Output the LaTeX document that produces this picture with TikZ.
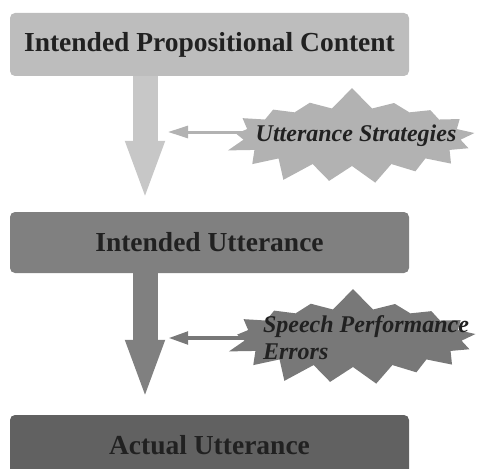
\documentclass[tikz,border=0pt]{standalone}
\usepackage{fontspec}
\setmainfont{Liberation Serif}
\usetikzlibrary{shapes.symbols,arrows.meta}

\definecolor{boxlight}{gray}{0.74}
\definecolor{boxmid}{gray}{0.50}
\definecolor{boxdark}{gray}{0.38}
\definecolor{arrowlight}{gray}{0.78}
\definecolor{arrowmid}{gray}{0.50}
\definecolor{burstlight}{gray}{0.70}
\definecolor{burstmid}{gray}{0.47}
\definecolor{inktext}{gray}{0.13}

\tikzset{
  stagebox/.style={rounded corners=5pt, minimum width=399pt, inner sep=0pt,
    text=inktext, font=\bfseries\fontsize{27.5}{30}\selectfont},
  burst/.style={starburst, starburst points=17, starburst point height=22pt,
    random starburst=7, minimum width=262pt, minimum height=102pt, inner sep=0pt},
  bursttext/.style={text=inktext, align=left,
    font=\bfseries\itshape\fontsize{24}{27}\selectfont},
  bigarrow/.style={line width=25pt, -{Triangle[length=60pt,width=35pt]}},
  thinarrow/.style={-{Triangle[length=20pt,width=12pt]}}
}

\begin{document}
\begin{tikzpicture}[x=1pt,y=1pt]
            % Frame
            \useasboundingbox (0,0) rectangle (481,-468);
            \clip (0,0) rectangle (481,-468);

            % Stages
            \node[stagebox, fill=boxlight, minimum height=63pt] (ipc) at (209.5,-44.5) {Intended Propositional Content};
            \node[stagebox, fill=boxmid, minimum height=61pt] (iu) at (209.5,-242.5) {Intended Utterance};
            \node[stagebox, fill=boxdark, minimum height=60pt] (au) at (209.5,-445) {Actual Utterance};

            % Arrow ends
            \coordinate (axis) at (145,0);
            \coordinate (tip1) at (168,-132);
            \coordinate (tip2) at (168,-338);

            % Side arrows
            \draw[thinarrow, draw=burstlight, fill=burstlight, line width=3pt] (260,-132) -- (tip1);
            \draw[thinarrow, draw=burstmid, fill=burstmid, line width=4.5pt] (260,-338) -- (tip2);

            % Bursts
            \node[burst, fill=burstlight] (stratb) at (352,-137) {};
            \node[bursttext] (strat) at (356,-136) {Utterance Strategies};
            \node[burst, fill=burstmid] (errb) at (353,-338) {};
            \node[bursttext] (err) at (366,-338) {Speech Performance\\Errors};

            % Main arrows
            \draw[bigarrow, draw=arrowlight, fill=arrowlight] (ipc.south -| axis) -- ([yshift=11pt]iu.north -| axis);
            \draw[bigarrow, draw=arrowmid, fill=arrowmid] (iu.south -| axis) -- ([yshift=15pt]au.north -| axis);
        \end{tikzpicture}
\end{document}
